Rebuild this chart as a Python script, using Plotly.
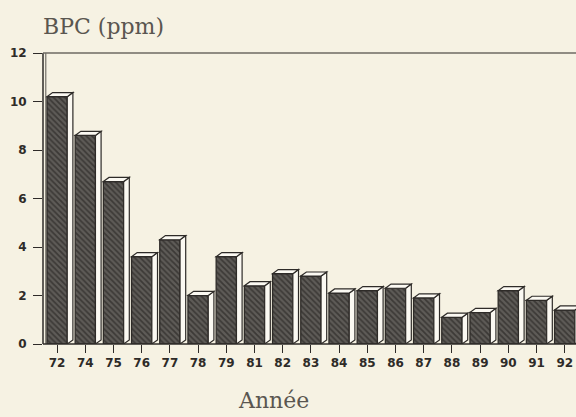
import plotly.graph_objects as go

years = ["72", "74", "75", "76", "77", "78", "79", "81", "82", "83",
         "84", "85", "86", "87", "88", "89", "90", "91", "92"]
bpc_ppm = [10.2, 8.6, 6.7, 3.6, 4.3, 2.0, 3.6, 2.4, 2.9, 2.8,
           2.1, 2.2, 2.3, 1.9, 1.1, 1.3, 2.2, 1.8, 1.4]
y_ticks = [0, 2, 4, 6, 8, 10, 12]

xpos = list(range(len(years)))
W = 0.72     # bar width (x units)
DX = 0.2     # depth offset in x units
DY = 0.17    # depth offset in y units
ink = "#2e2b28"
paper = "#f6f2e3"

fig = go.Figure()
fig.add_trace(go.Bar(
    x=xpos, y=bpc_ppm, width=W,
    marker=dict(color="#45423f",
                line=dict(color=ink, width=1.3),
                pattern=dict(shape="\\", fgcolor="#1a1816", bgcolor="#5e5b57",
                             size=4, solidity=0.45)),
    showlegend=False,
))

shapes = []
for x, v in zip(xpos, bpc_ppm):
    xl, xr = x - W / 2, x + W / 2
    shapes.append(dict(
        type="path", xref="x", yref="y", layer="above",
        path=f"M {xr},{0} L {xr+DX},{DY} L {xr+DX},{v+DY} L {xr},{v} Z",
        fillcolor="#fbf9f2", line=dict(color=ink, width=1.2)))
    shapes.append(dict(
        type="path", xref="x", yref="y", layer="above",
        path=f"M {xl},{v} L {xl+DX},{v+DY} L {xr+DX},{v+DY} L {xr},{v} Z",
        fillcolor="#fbf9f2", line=dict(color=ink, width=1.2)))

# frame: double left wall, top, bottom lines
shapes.append(dict(type="line", xref="paper", yref="paper", x0=0, x1=0, y0=0, y1=1,
                   line=dict(color=ink, width=1.5)))
shapes.append(dict(type="line", xref="x", yref="paper", x0=-0.4, x1=-0.4, y0=0, y1=1,
                   line=dict(color="#5a5650", width=1)))
shapes.append(dict(type="line", xref="paper", yref="paper", x0=0, x1=1, y0=1, y1=1,
                   line=dict(color="#6e6a63", width=1.5)))
shapes.append(dict(type="line", xref="paper", yref="paper", x0=0, x1=1, y0=0, y1=0,
                   line=dict(color=ink, width=1.5)))

fig.update_layout(
    width=576, height=417,
    margin=dict(l=43, r=0, t=53, b=73),
    paper_bgcolor=paper, plot_bgcolor=paper,
    shapes=shapes,
    xaxis=dict(range=[-0.5, 18.4], tickvals=xpos, ticktext=years,
               ticks="outside", ticklen=8, tickcolor=ink, tickwidth=1.3,
               showgrid=False, zeroline=False, showline=False,
               tickfont=dict(family="DejaVu Sans", size=12, color=ink, weight="bold")),
    yaxis=dict(range=[0, 12], tickvals=y_ticks,
               ticks="outside", ticklen=9, tickcolor=ink, tickwidth=1.3,
               ticklabelstandoff=4,
               showgrid=False, zeroline=False, showline=False,
               tickfont=dict(family="DejaVu Sans", size=12, color=ink, weight="bold")),
    annotations=[
        dict(text="BPC (ppm)", xref="paper", yref="paper", x=0.0, y=1.0,
             xanchor="left", yanchor="bottom", yshift=12, xshift=-2, showarrow=False,
             font=dict(family="DejaVu Serif", size=22, color="#5a5650")),
        dict(text="Année", xref="paper", yref="paper", x=0.432, y=0,
             xanchor="center", yanchor="top", yshift=-42, showarrow=False,
             font=dict(family="DejaVu Serif", size=22, color="#5a5650")),
    ],
)

fig.write_html("out.html", config={"displayModeBar": False})

# remove the browser's default page margin so the figure fills the window
with open("out.html", encoding="utf-8") as f:
    html = f.read()
html = html.replace("<head>", "<head><style>html,body{margin:0;padding:0;overflow:hidden;}</style>", 1)
with open("out.html", "w", encoding="utf-8") as f:
    f.write(html)
